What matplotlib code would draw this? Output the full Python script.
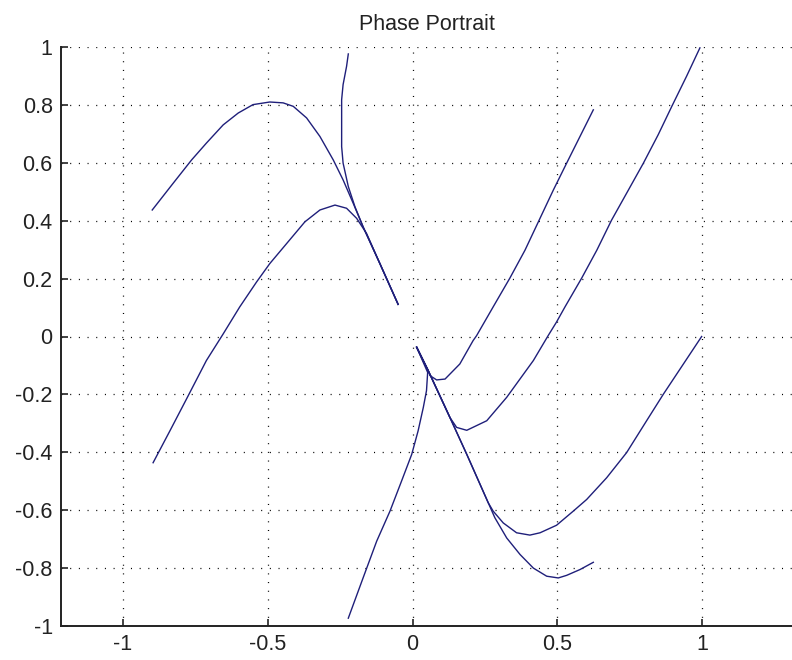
import matplotlib
matplotlib.use("Agg")
import matplotlib.pyplot as plt

# ---- data ----
# common tail of the top-left trajectories (slow line towards the origin)
tl_tail_x = [-0.171, -0.113, -0.050]
tl_tail_y = [0.379, 0.252, 0.111]

a_x = [-0.899, -0.827, -0.763, -0.712, -0.654, -0.602, -0.551, -0.493, -0.447,
       -0.412, -0.366, -0.320, -0.274, -0.240, -0.205]
a_y = [0.437, 0.529, 0.610, 0.668, 0.731, 0.772, 0.801, 0.810, 0.807,
       0.795, 0.755, 0.691, 0.610, 0.541, 0.460]

b_x = [-0.222, -0.228, -0.240, -0.245, -0.245, -0.240, -0.222, -0.199]
b_y = [0.976, 0.933, 0.870, 0.818, 0.656, 0.599, 0.518, 0.448]

c_x = [-0.896, -0.838, -0.775, -0.712, -0.654, -0.597, -0.539, -0.493, -0.435,
       -0.372, -0.320, -0.268, -0.228, -0.193, -0.159]
c_y = [-0.436, -0.326, -0.205, -0.083, 0.009, 0.102, 0.188, 0.252, 0.321,
       0.396, 0.437, 0.454, 0.443, 0.408, 0.356]

# common tail of the bottom-right trajectories (slow line towards the origin)
br_line_x = [0.261, 0.187, 0.129, 0.054, 0.014]
br_line_y = [-0.574, -0.407, -0.280, -0.118, -0.037]

d_x = [-0.222, -0.171, -0.124, -0.078, -0.038, -0.003, 0.019, 0.037, 0.048, 0.052]
d_y = [-0.973, -0.834, -0.707, -0.603, -0.499, -0.407, -0.326, -0.245, -0.187, -0.124]

f_x = [0.624, 0.578, 0.532, 0.486, 0.437, 0.388, 0.336, 0.278, 0.221,
       0.209, 0.163, 0.112, 0.083, 0.060]
f_y = [0.783, 0.691, 0.599, 0.506, 0.402, 0.298, 0.202, 0.102, 0.003,
       -0.014, -0.095, -0.147, -0.150, -0.135]

g_x = [0.992, 0.946, 0.895, 0.848, 0.797, 0.739, 0.687, 0.636, 0.584, 0.526,
       0.497, 0.468, 0.417, 0.325, 0.256, 0.187, 0.152]
g_y = [0.997, 0.899, 0.795, 0.697, 0.599, 0.495, 0.402, 0.298, 0.202, 0.102,
       0.050, 0.003, -0.083, -0.210, -0.291, -0.324, -0.314]

h_x = [0.998, 0.935, 0.866, 0.808, 0.739, 0.670, 0.601, 0.555, 0.497, 0.440,
       0.405, 0.359, 0.313, 0.278]
h_y = [0.000, -0.095, -0.199, -0.291, -0.401, -0.488, -0.563, -0.603, -0.652,
       -0.678, -0.686, -0.678, -0.644, -0.603]

i_x = [0.624, 0.578, 0.532, 0.503, 0.463, 0.417, 0.371, 0.325, 0.284]
i_y = [-0.780, -0.805, -0.825, -0.834, -0.828, -0.800, -0.753, -0.696, -0.626]

x_ticks = [-1, -0.5, 0, 0.5, 1]
x_tick_labels = ["-1", "-0.5", "0", "0.5", "1"]
y_ticks = [-1, -0.8, -0.6, -0.4, -0.2, 0, 0.2, 0.4, 0.6, 0.8, 1]
y_tick_labels = ["-1", "-0.8", "-0.6", "-0.4", "-0.2", "0", "0.2", "0.4", "0.6", "0.8", "1"]

# ---- figure ----
plt.rcParams['font.family'] = ['Liberation Sans', 'DejaVu Sans']
plt.rcParams['lines.scale_dashes'] = False

fig = plt.figure(figsize=(7.92, 6.6), dpi=100)
ax = fig.add_axes([61 / 792, 34 / 660, (792 - 61) / 792, (626 - 47) / 660])

line_color = '#1f1f7a'
lw = 1.0

def tail_from(tx, ty, start_idx):
    return tx[start_idx:], ty[start_idx:]

# top-left group
ax.plot(a_x + tl_tail_x, a_y + tl_tail_y, color=line_color, lw=lw)
ax.plot(b_x + tl_tail_x, b_y + tl_tail_y, color=line_color, lw=lw)
ax.plot(c_x + tl_tail_x[1:], c_y + tl_tail_y[1:], color=line_color, lw=lw)

# bottom-right group
ax.plot(d_x + br_line_x[4:], d_y + br_line_y[4:], color=line_color, lw=lw)
ax.plot(f_x + br_line_x[3:], f_y + br_line_y[3:], color=line_color, lw=lw)
ax.plot(g_x + br_line_x[2:], g_y + br_line_y[2:], color=line_color, lw=lw)
ax.plot(h_x + br_line_x, h_y + br_line_y, color=line_color, lw=lw)
ax.plot(i_x + br_line_x, i_y + br_line_y, color=line_color, lw=lw)

ax.set_xlim(-1.214, 1.31)
ax.set_ylim(-1.0, 1.0)

ax.set_xticks(x_ticks)
ax.set_xticklabels(x_tick_labels)
ax.set_yticks(y_ticks)
ax.set_yticklabels(y_tick_labels)

ax.grid(True, color='black', linestyle=(0, (0.75, 5.5)), linewidth=0.9)
ax.set_axisbelow(True)

for s in ['top', 'right']:
    ax.spines[s].set_visible(False)
for s in ['left', 'bottom']:
    ax.spines[s].set_linewidth(1.4)
    ax.spines[s].set_color('#222222')

ax.tick_params(direction='in', length=5, width=1.2, labelsize=15.5,
               colors='#222222', pad=6)

ax.set_title("Phase Portrait", fontsize=15.5, color='#222222', pad=12)

fig.savefig("out.png", dpi=100, facecolor='white')
